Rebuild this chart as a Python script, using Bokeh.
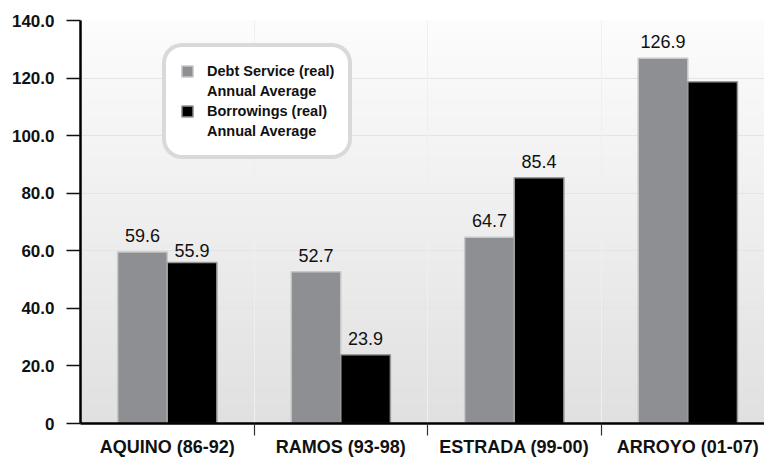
import numpy as np
from bokeh.plotting import figure
from bokeh.models import (Range1d, FixedTicker, NumeralTickFormatter, Legend, LegendItem,
                          ColumnDataSource, LinearAxis, Grid)
from bokeh.core.properties import value
from bokeh.embed import file_html
from bokeh.resources import INLINE

# ---------------- data ----------------
categories = ["AQUINO (86-92)", "RAMOS (93-98)", "ESTRADA (99-00)", "ARROYO (01-07)"]
debt_service = [59.6, 52.7, 64.7, 126.9]
borrowings = [55.9, 23.9, 85.4, 118.7]
debt_label_shown = [True, True, True, True]
borrow_label_shown = [True, True, True, False]
y_ticks = [0, 20, 40, 60, 80, 100, 120, 140]
series_names = ["Debt Service (real)", "Borrowings (real)"]
legend_subtitle = "Annual Average"

# ---------------- style ----------------
GRAY = "#8e8f93"
BLACK = "#000000"
BAR_W = 0.286
LABEL_FONT = "Liberation Sans"

centers = np.arange(len(categories)) + 0.5

p = figure(width=764, height=459, output_backend="svg", toolbar_location=None,
           x_range=Range1d(0, 3.942), y_range=Range1d(0, 140),
           min_border_left=80, min_border_right=0, min_border_top=20, min_border_bottom=36,
           x_axis_type=None, y_axis_type=None)
p.outline_line_color = None
p.background_fill_color = "white"
p.border_fill_color = "white"

# vertical gradient background of the plot area
n = 140
edges = np.linspace(0, 140, n + 1)
frac = (edges[:-1] + edges[1:]) / 2 / 140.0
levels = (224 + (252 - 224) * frac).round().astype(int)
grad_cols = ["#%02x%02x%02x" % (v, v, v) for v in levels]
p.quad(left=0, right=4, bottom=edges[:-1], top=edges[1:], fill_color=grad_cols,
       line_color=grad_cols, line_width=1, level="image")

# grids
p.add_layout(Grid(dimension=1, ticker=FixedTicker(ticks=y_ticks[1:-1]),
                  grid_line_color="#e4e4e4", grid_line_width=1))
p.add_layout(Grid(dimension=0, ticker=FixedTicker(ticks=list(np.arange(1, len(categories)).astype(float))),
                  grid_line_color="#efefef", grid_line_width=1))

# bars
src = ColumnDataSource(dict(xd=centers - BAR_W / 2, xb=centers + BAR_W / 2,
                            debt=debt_service, borrow=borrowings))
r_debt = p.vbar(x="xd", top="debt", width=BAR_W, source=src, fill_color=GRAY,
                line_color="#c8c8c8", line_width=1.5)
r_borrow = p.vbar(x="xb", top="borrow", width=BAR_W, source=src, fill_color=BLACK,
                  line_color="#9a9a9a", line_width=1.5)
dummy = p.vbar(x=[], top=[], width=0.1, fill_alpha=0, line_alpha=0)

# value labels
lx, ly, lt, lo = [], [], [], []
for i in range(len(categories)):
    if debt_label_shown[i]:
        lx.append(centers[i] - BAR_W / 2); ly.append(debt_service[i])
        lt.append("%.1f" % debt_service[i]); lo.append(-16.5)
    if borrow_label_shown[i]:
        lx.append(centers[i] + BAR_W / 2); ly.append(borrowings[i])
        lt.append("%.1f" % borrowings[i])
        lo.append(-12 if i == 0 else -16.5)
lsrc = ColumnDataSource(dict(x=lx, y=ly, t=lt, o=lo))
p.text(x="x", y="y", text="t", y_offset="o", source=lsrc, text_align="center",
       text_baseline="alphabetic", text_font=value(LABEL_FONT), text_font_size="18px",
       text_color="#111111")

# axes
yaxis = LinearAxis(ticker=FixedTicker(ticks=y_ticks), formatter=NumeralTickFormatter(format="0.0"),
                   major_label_overrides={0: "0"})
yaxis.axis_line_width = 2.5
yaxis.axis_line_color = "black"
yaxis.major_tick_out = 14
yaxis.major_tick_in = 0
yaxis.major_tick_line_width = 1.5
yaxis.major_tick_line_color = "#111111"
yaxis.minor_tick_out = 0
yaxis.minor_tick_in = 0
yaxis.major_label_standoff = 12
yaxis.major_label_text_font = LABEL_FONT
yaxis.major_label_text_font_style = "bold"
yaxis.major_label_text_font_size = "17px"
yaxis.major_label_text_color = "#111111"
p.add_layout(yaxis, "left")

xaxis = LinearAxis(ticker=FixedTicker(ticks=[float(c) for c in centers],
                                      minor_ticks=[float(v) for v in np.arange(1, len(categories))]),
                   major_label_overrides={float(c): lab for c, lab in zip(centers, categories)})
xaxis.axis_line_width = 2.5
xaxis.axis_line_color = "black"
xaxis.major_tick_out = 0
xaxis.major_tick_in = 0
xaxis.minor_tick_out = 12
xaxis.minor_tick_in = 0
xaxis.minor_tick_line_color = "#333333"
xaxis.minor_tick_line_width = 1.2
xaxis.major_label_standoff = 1
xaxis.major_label_text_font = LABEL_FONT
xaxis.major_label_text_font_style = "bold"
xaxis.major_label_text_font_size = "18px"
xaxis.major_label_text_color = "#111111"
p.add_layout(xaxis, "below")

# legend
legend = Legend(items=[
    LegendItem(label=series_names[0], renderers=[r_debt]),
    LegendItem(label=legend_subtitle, renderers=[dummy]),
    LegendItem(label=series_names[1], renderers=[r_borrow]),
    LegendItem(label=legend_subtitle, renderers=[dummy]),
], location=(82, 264))
legend.glyph_width = 14
legend.glyph_height = 14
legend.label_standoff = 13
legend.label_height = 20
legend.spacing = 0
legend.padding = 14
legend.margin = 0
legend.border_line_color = "#b4b4b5"
legend.border_line_width = 4
legend.background_fill_color = "white"
legend.background_fill_alpha = 1
legend.label_text_font = LABEL_FONT
legend.label_text_font_style = "bold"
legend.label_text_font_size = "14.5px"
legend.label_text_color = "#111111"
try:
    legend.border_radius = 20
except Exception:
    pass
p.add_layout(legend)

open("out.html", "w").write(file_html(p, INLINE))
